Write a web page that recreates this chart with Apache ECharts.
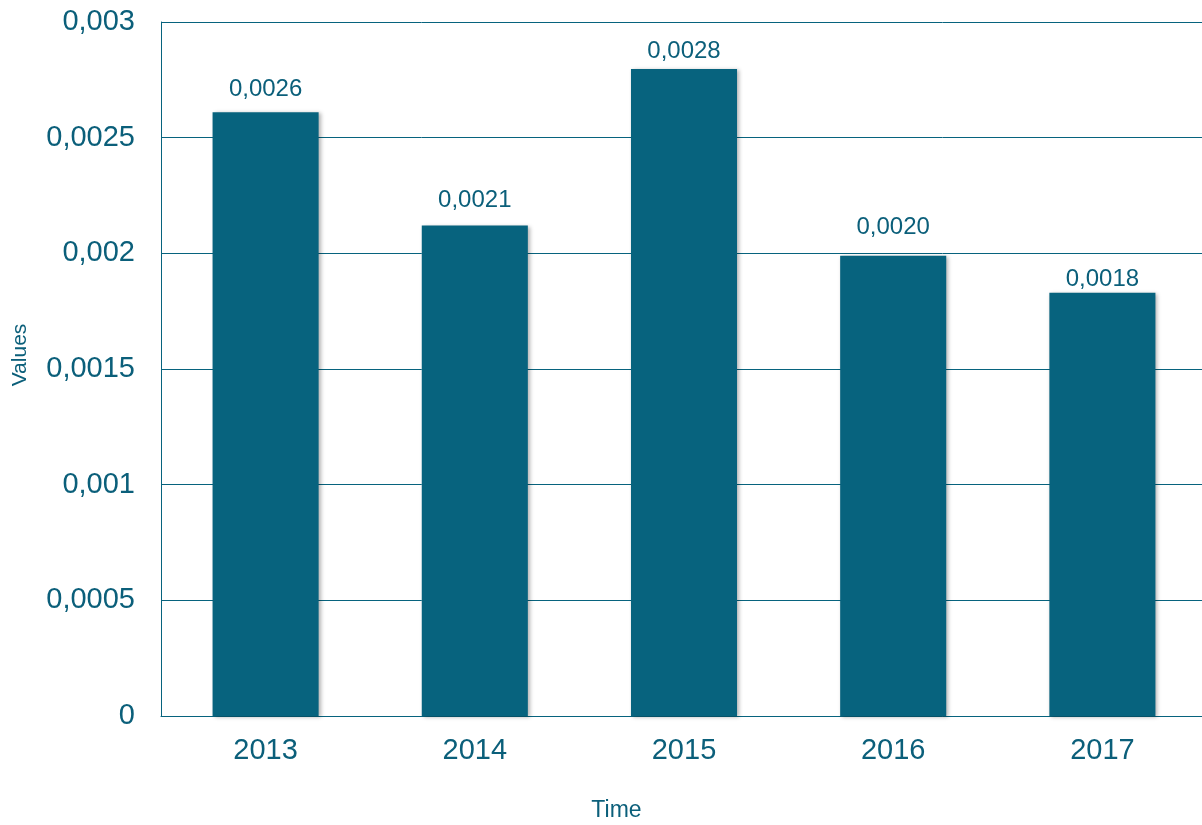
<!DOCTYPE html>
<html>
<head>
<meta charset="utf-8">
<script src="https://cdn.jsdelivr.net/npm/echarts@6/dist/echarts.min.js"></script>
<style>html,body{margin:0;padding:0;background:#fff;overflow:hidden;}#c{width:1202px;height:825px;}</style>
</head>
<body>
<div id="c"></div>
<script>
var categories = ['2013', '2014', '2015', '2016', '2017'];
var values = [0.00261, 0.00212, 0.002797, 0.00199, 0.00183];
var yTicks = [0, 0.0005, 0.001, 0.0015, 0.002, 0.0025, 0.003];

var C = '#07637e';
var T = '#0b5f7a';
var labelDistances = [11, 13, 6, 16, 1];
var seriesData = values.map(function (v, i) {
  return { value: v, label: { distance: labelDistances[i] } };
});
var chart = echarts.init(document.getElementById('c'));
chart.setOption({
  animation: false,
  grid: { left: 161, right: -5, top: 22, bottom: 109, containLabel: false, outerBoundsMode: 'none' },
  xAxis: {
    type: 'category',
    data: categories,
    name: 'Time',
    nameLocation: 'middle',
    nameGap: 83,
    nameTextStyle: { color: T, fontSize: 23, fontFamily: 'Liberation Sans', padding: [0, 135, 0, 0] },
    axisLine: { show: true, lineStyle: { color: C, width: 1 } },
    axisTick: { show: false },
    axisLabel: { color: T, fontSize: 29, fontFamily: 'Liberation Sans', margin: 20 }
  },
  yAxis: {
    type: 'value',
    min: yTicks[0],
    max: yTicks[yTicks.length - 1],
    interval: 0.0005,
    name: 'Values',
    nameLocation: 'middle',
    nameGap: 130,
    nameTextStyle: { color: T, fontSize: 21, fontFamily: 'Liberation Sans', padding: [0, 0, 0, 28] },
    axisLine: { show: true, lineStyle: { color: C, width: 1 } },
    axisTick: { show: false },
    splitLine: { show: true, lineStyle: { color: C, width: 1 } },
    axisLabel: {
      color: T, fontSize: 29, fontFamily: 'Liberation Sans', margin: 26,
      formatter: function (v) { return String(+(+v).toFixed(4)).replace('.', ','); }
    }
  },
  series: [{
    type: 'bar',
    data: seriesData,
    barWidth: '50.7%',
    itemStyle: { color: C, shadowBlur: 4, shadowColor: 'rgba(0,0,0,0.3)', shadowOffsetX: 2, shadowOffsetY: 1 },
    label: {
      show: true, position: 'top', distance: 11, color: T, fontSize: 24, fontFamily: 'Liberation Sans',
      formatter: function (p) { return p.value.toFixed(4).replace('.', ','); }
    }
  }]
});
</script>
</body>
</html>
